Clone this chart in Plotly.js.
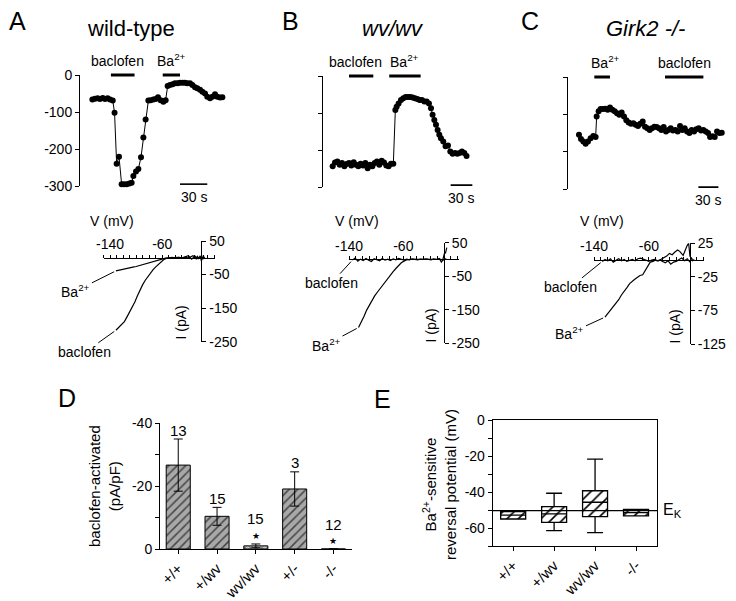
<!DOCTYPE html>
<html><head><meta charset="utf-8">
<script src="https://cdn.plot.ly/plotly-3.0.1.min.js"></script>
<style>html,body{margin:0;padding:0;background:#fff}#chart{width:736px;height:601px}</style>
</head><body><div id="chart"></div>
<script>
// ---------- DATA ----------
// Panel A (wild-type) time course: time (s), current (pA)
const aTime = [13.6,16.5,19.4,22,25,27.5,30.4,33,36,38,40.3,42.9,45.8,48.4,51.3,54.3,56.8,58.7,61.6,64.2,67.1,69.7,72.2,75.2,77.7,80.7,83.2,85.8,88.7,91.7,94.2,96.4,99,101.9,104.5,107.4,110,112.9,115.5,118,121,123.6,126.5,129,132,134.6,137.5,140,143,145.6,148.5,151,154,156.6];
const aCurrent = [-66,-64,-63,-65,-62,-65,-63,-66,-69,-102,-240,-221,-295,-295,-295,-293,-291,-273,-261,-254,-222,-169,-120,-69,-68,-66,-65,-60,-68,-72,-68,-30,-27,-25,-22,-22,-21,-21,-21,-22,-22,-27,-33,-36,-40,-45,-50,-59,-63,-59,-52,-59,-61,-60];
const aBaclofen = [34, 60];
const aBarium = [91, 110];
const aScale = [110, 140];

// Panel B (wv/wv) time course
const bTime = [13.8,17,20.3,23.5,26.7,30,33.2,36.4,39.6,42.9,46,49.3,52.5,55.8,59,62.2,65.4,68.7,71.9,75,78.3,81.6,84.8,88,91.2,94.5,97.7,100.5,102.3,105,108.3,111.5,114.7,118,121.2,124.4,127.6,131,134,137.3,140.6,143.8,147,149.8,152,154.4,156.7,159,161.3,163.6,166.8,170,173.3,176.5,179.7,183,186.2,189.4,192.6,195.9,199];
const bCurrent = [-244,-234,-231,-240,-235,-244,-238,-235,-242,-233,-240,-244,-237,-242,-235,-249,-240,-244,-235,-231,-240,-229,-234,-242,-244,-237,-237,-92,-83,-74,-65,-60,-57,-57,-57,-58,-60,-62,-65,-65,-69,-69,-74,-87,-105,-119,-132,-146,-159,-168,-177,-190,-188,-204,-210,-208,-210,-208,-204,-208,-216];
const bBaclofen = [36.4, 70];
const bBarium = [92, 135.5];
const bScale = [177, 207];

// Panel C (Girk2 -/-) time course
const cTime = [16,19,22.5,26,29.5,33.5,37.5,41,42.5,45.5,48.5,52,55.5,59,62.5,66,69.5,73,76.5,80,83.5,87,90.5,94,97.5,101,104.5,108,111.5,115,118.5,122,125.5,129,132.5,136,139.5,143,146.5,150,153.5,157,160.5,164,167.5,171,174.5,178,181.5,185,188.5,192,195.5,199,202.5,206,209.5,212.5,216,219.5,223,226.5,230];
const cCurrent = [-155,-166,-173,-179,-173,-164,-158,-161,-106,-92,-86,-86,-85,-88,-82,-88,-92,-97,-101,-95,-106,-116,-122,-125,-124,-128,-131,-125,-119,-133,-137,-142,-137,-133,-134,-137,-142,-134,-146,-142,-137,-143,-142,-146,-131,-142,-137,-146,-150,-142,-146,-140,-137,-143,-142,-146,-150,-161,-159,-161,-146,-150,-149];
const cBarium = [39, 62.5];
const cBaclofen = [145, 202.5];
const cScale = [195, 225];

// I-V curves: voltage (mV), current (pA)
const aIvBacV = [-131,-128,-125,-121,-118,-114,-110,-106,-102,-98,-94,-90,-86,-82,-78,-74,-70,-66,-62,-58,-54,-50,-45,-40,-35,-30,-25,-20,-16,-13,-10,-8,-6,-4,-2,0,1,2,3,4,5];
const aIvBacI = [-216,-210,-206,-196,-190,-176,-162,-149,-132,-113,-95,-80,-67,-56,-45,-35,-27,-19,-12,-6,-2,0,1,-1,1,0,2,-1,3,6,2,-3,4,-2,6,-10,3,-5,8,-3,2];
const aIvBaV = [-131,-125,-120,-115,-110,-105,-100,-95,-90,-85,-80,-75,-70,-65,-60,-55,-50,-45,-40,-35,-30,-25,-20,-15,-10,-5,0,3,5];
const aIvBaI = [-39,-36,-34,-32,-30,-28,-26,-23,-20,-17,-14,-11,-8,-5,-3,-1,0,1,0,1,-1,2,6,-4,5,-3,3,-2,1];

const bIvBacV = [-135,-131,-127,-123,-119,-115,-111,-107,-103,-99,-95,-91,-87,-83,-79,-75,-71,-67,-63,-59,-55,-51,-47,-43,-39,-35,-31,-27,-23,-19,-15,-11,-7,-4,-2,0,1,2,3,4];
const bIvBacI = [-2,4,-5,1,-3,3,-2,-6,2,-1,-4,3,-2,1,-3,2,-1,3,0,-2,1,-1,2,0,-1,1,0,2,1,-1,2,0,3,-8,-2,15,22,18,30,35];
const bIvBaV = [-126,-122,-118,-114,-110,-106,-102,-98,-94,-90,-86,-82,-78,-75,-71,-67,-63,-59,-55,-50,-45,-40,-35,-30,-25,-20,-15,-10,-5,0,3];
const bIvBaI = [-203,-188,-170,-151,-136,-120,-108,-97,-86,-75,-63,-53,-44,-36,-27,-18,-10,-5,-1,0,0,1,0,1,0,1,2,1,0,-2,3];

const cIvBacV = [-128,-124,-120,-116,-112,-108,-104,-100,-96,-92,-88,-84,-80,-76,-72,-68,-64,-60,-56,-52,-48,-44,-40,-36,-32,-28,-24,-20,-16,-12,-8,-4,0,2,4,6];
const cIvBacI = [-2,1,-1,2,-3,0,2,-1,1,-2,0,1,-1,2,3,1,-1,-2,0,1,-1,0,-2,-4,-1,-6,-3,-2,1,3,-1,2,-3,4,-1,1];
const cIvBaV = [-124,-120,-116,-112,-108,-104,-100,-96,-92,-88,-85,-81,-77,-73,-69,-66,-62,-58,-54,-50,-46,-42,-38,-34,-30,-26,-22,-18,-15,-12,-10,-8,-6,-4,-2,0];
const cIvBaI = [-85,-80,-75,-70,-65,-59,-52,-47,-41,-35,-32,-29,-26,-23,-22,-17,-9,-3,-2,0,-1,1,3,6,10,8,12,15,13,9,7,12,18,22,25,5];

// Panel D: baclofen-activated current density
const dCategories = ['+/+','+/wv','wv/wv','+/-','-/-'];
const dMean = [-26.7,-10.4,-1.0,-19.1,0];
const dSem = [8.3,2.85,0.6,5.45,0];
const dCounts = ['13','15','15','3','12'];
const dSignificant = [false,false,true,false,true];

// Panel E: Ba2+-sensitive reversal potential
const eCategories = ['+/+','+/wv','wv/wv','-/-'];
const eQ1 = [-55,-56.9,-53.7,-53.3];
const eMedian = [-52.8,-52.2,-45.7,-51.5];
const eQ3 = [-50.9,-48.1,-39.3,-49.6];
const eLower = [-55,-61.5,-62.6,-53.3];
const eUpper = [-50.9,-40.7,-21.7,-49.6];
const eEk = -50.4;

// ---------- LAYOUT HELPERS ----------
const W = 736, H = 601;
const fx = p => p / W, fy = p => 1 - p / H;
const FONT = '"Liberation Sans", Arial, Helvetica, sans-serif';
const map = (dom, rng) => v => dom[0] + (v - rng[0]) / (rng[1] - rng[0]) * (dom[1] - dom[0]);
const numText = v => String(v);

const topY = [-300, 0];
const topTicks = [0, -100, -200, -300];
const panelsTop = [
  {id:'', t:aTime, i:aCurrent, xd:[fx(80), fx(230)], xr:[0,165], yd:[fy(186), fy(75)], labels:true,
   stims:[{r:aBaclofen, txt:'baclofen', shift:-5}, {r:aBarium, txt:'Ba<sup>2+</sup>', shift:0}], scale:aScale},
  {id:'2', t:bTime, i:bCurrent, xd:[fx(322.7), fx(480)], xr:[0,217.6], yd:[fy(187), fy(76)], labels:false,
   stims:[{r:bBaclofen, txt:'baclofen', shift:-6}, {r:bBarium, txt:'Ba<sup>2+</sup>', shift:0}], scale:bScale},
  {id:'3', t:cTime, i:cCurrent, xd:[fx(568.3), fx(730)], xr:[0,242.4], yd:[fy(189), fy(77)], labels:false,
   stims:[{r:cBarium, txt:'Ba<sup>2+</sup>', shift:3}, {r:cBaclofen, txt:'baclofen', shift:0}], scale:cScale}
];

const data = [];
const layout = {
  width: W, height: H, margin:{l:0,r:0,t:0,b:0}, paper_bgcolor:'#fff', plot_bgcolor:'rgba(0,0,0,0)',
  showlegend:false, font:{family:FONT, size:14, color:'#000'},
  annotations:[], shapes:[]
};
const A = layout.annotations, S = layout.shapes;

panelsTop.forEach(p => {
  const xk = 'xaxis' + p.id, yk = 'yaxis' + p.id;
  layout[xk] = {domain:p.xd, range:p.xr, visible:false, fixedrange:true};
  layout[yk] = {domain:p.yd, range:topY, anchor:'x'+p.id, showline:true, linecolor:'#000', linewidth:1,
    ticks:'outside', ticklen:4, tickcolor:'#000', tickvals:topTicks, ticktext:topTicks.map(numText),
    showticklabels:p.labels, showgrid:false, zeroline:false, tickfont:{size:14}, fixedrange:true};
  data.push({type:'scatter', mode:'lines+markers', x:p.t, y:p.i, xaxis:'x'+p.id, yaxis:'y'+p.id,
    line:{color:'#000', width:1}, marker:{color:'#000', size:6}, cliponaxis:false, hoverinfo:'skip'});
  const ym = map(p.yd, topY);
  p.stims.forEach(s => {
    S.push({type:'line', xref:'x'+p.id, yref:'paper', x0:s.r[0], x1:s.r[1], y0:ym(0), y1:ym(0),
      line:{color:'#000', width:3}});
    A.push({xref:'x'+p.id, yref:'paper', x:(s.r[0]+s.r[1])/2, y:ym(0), xshift:s.shift, yanchor:'bottom', yshift:4,
      text:s.txt, showarrow:false, font:{size:14}});
  });
  S.push({type:'line', xref:'x'+p.id, yref:'paper', x0:p.scale[0], x1:p.scale[1], y0:ym(-295), y1:ym(-295),
    line:{color:'#000', width:1.6}});
  A.push({xref:'x'+p.id, yref:'paper', x:(p.scale[0]+p.scale[1])/2, y:ym(-295), yanchor:'top', yshift:-3,
    text:'30 s', showarrow:false, font:{size:14}});
});

// I-V panels
const ivPanels = [
  {id:'4', xd:[fx(103.5), fx(214.5)], xr:[-150,20], yd:[fy(341.7), fy(241)], yr:[-250,50], yt:[50,-50,-150,-250],
   bac:[aIvBacV, aIvBacI], ba:[aIvBaV, aIvBaI], bacOff:[-31,22], baOff:[-40,20], vLab:[112,221], iLab:[180.5,323]},
  {id:'5', xd:[fx(349), fx(459)], xr:[-140,22], yd:[fy(343.3), fy(242.7)], yr:[-250,50], yt:[50,-50,-150,-250],
   bac:[bIvBacV, bIvBacI], ba:[bIvBaV, bIvBaI], bacOff:[-21,23], baOff:[-32,17], vLab:[356.5,221], iLab:[430.5,325]},
  {id:'6', xd:[fx(594), fx(704)], xr:[-140,20.4], yd:[fy(344), fy(243.3)], yr:[-125,25], yt:[25,-25,-75,-125],
   bac:[cIvBacV, cIvBacI], ba:[cIvBaV, cIvBaI], bacOff:[-32,26], baOff:[-35,16], vLab:[601.5,221], iLab:[674.5,327]}
];
ivPanels.forEach(p => {
  const xm = map(p.xd, p.xr), ymp = map(p.yd, p.yr);
  const vt = []; for (let v = Math.ceil(p.xr[0]/10)*10; v <= p.xr[1]; v += 10) vt.push(v);
  layout['xaxis'+p.id] = {domain:p.xd, range:p.xr, anchor:'free', position:ymp(0), side:'top',
    showline:true, linecolor:'#000', linewidth:1, ticks:'outside', ticklen:3, tickcolor:'#000',
    tickvals:vt, ticktext:vt.map(v => (v === -140 || v === -60) ? numText(v) : ''),
    showgrid:false, zeroline:false, tickfont:{size:14}, fixedrange:true};
  layout['yaxis'+p.id] = {domain:p.yd, range:p.yr, anchor:'free', position:xm(0), side:'right',
    showline:true, linecolor:'#000', linewidth:1, ticks:'outside', ticklen:4, tickcolor:'#000',
    tickvals:p.yt, ticktext:p.yt.map(numText), showgrid:false, zeroline:false, tickfont:{size:14}, fixedrange:true};
  [p.bac, p.ba].forEach(c => data.push({type:'scatter', mode:'lines', x:c[0], y:c[1], xaxis:'x'+p.id, yaxis:'y'+p.id,
    line:{color:'#000', width:1.2}, hoverinfo:'skip'}));
  A.push({xref:'x'+p.id, yref:'y'+p.id, x:p.bac[0][0], y:p.bac[1][0], ax:p.bacOff[0], ay:p.bacOff[1],
    text:'baclofen', showarrow:true, arrowhead:0, arrowwidth:1, arrowcolor:'#000', standoff:2, font:{size:14}});
  A.push({xref:'x'+p.id, yref:'y'+p.id, x:p.ba[0][0], y:p.ba[1][0], ax:p.baOff[0], ay:p.baOff[1],
    text:'Ba<sup>2+</sup>', showarrow:true, arrowhead:0, arrowwidth:1, arrowcolor:'#000', standoff:2, font:{size:14}});
  A.push({xref:'paper', yref:'paper', x:fx(p.vLab[0]), y:fy(p.vLab[1]), text:'V (mV)', showarrow:false, font:{size:14}});
  A.push({xref:'paper', yref:'paper', x:fx(p.iLab[0]), y:fy(p.iLab[1]), text:'I (pA)', textangle:-90, showarrow:false, font:{size:14}});
});

// Panel D
const dYR = [0, -40];
const dFill = ['#a8a8a8','#a8a8a8','#c6c6c6','#a8a8a8','#a8a8a8'];
layout.xaxis7 = {domain:[fx(160), fx(351.7)], type:'category', range:[-0.47, 4.47], anchor:'y7',
  showline:true, linecolor:'#000', linewidth:1, ticks:'outside', ticklen:4, tickcolor:'#000',
  tickangle:-45, tickfont:{size:15}, showgrid:false, zeroline:false, fixedrange:true};
layout.yaxis7 = {domain:[fy(549), fy(423.3)], range:dYR, anchor:'x7', showline:true, linecolor:'#000', linewidth:1,
  ticks:'outside', ticklen:4, tickcolor:'#000', tickvals:[0,-10,-20,-30,-40], ticktext:['0','','-20','','-40'],
  tickfont:{size:14}, showgrid:false, zeroline:false, fixedrange:true};
data.push({type:'bar', x:dCategories, y:dMean, xaxis:'x7', yaxis:'y7', width:0.62,
  marker:{color:dFill, line:{color:'#000', width:1},
    pattern:{shape:['/','/','x','/','/'], fgcolor:'#000', fgopacity:1,
      size:[6,6,4,6,6], solidity:[0.25,0.25,0.25,0.25,0.25], fillmode:'overlay'}},
  error_y:{type:'data', array:dSem, visible:true, color:'#000', thickness:1, width:4.5}, hoverinfo:'skip'});
dCategories.forEach((c, k) => {
  const top = dMean[k] - dSem[k];
  A.push({xref:'x7', yref:'y7', x:c, y:top, yanchor:'middle', yshift:dSignificant[k] ? 25 : 9,
    text:dCounts[k], showarrow:false, font:{size:15}});
  if (dSignificant[k]) A.push({xref:'x7', yref:'y7', x:c, y:top, yanchor:'middle', yshift:8,
    text:'★', showarrow:false, font:{size:9, family:'DejaVu Sans'}});
});
A.push({xref:'paper', yref:'paper', x:fx(105), y:fy(486), text:'baclofen-activated<br>(pA/pF)', textangle:-90,
  showarrow:false, font:{size:15}});

// Panel E
const eYR = [-70, 0];
layout.xaxis8 = {domain:[fx(492.7), fx(657.3)], type:'category', range:[-0.5, 3.52], anchor:'y8',
  showline:true, mirror:true, linecolor:'#000', linewidth:1, ticks:'outside', ticklen:4, tickcolor:'#000',
  tickangle:-45, tickfont:{size:15}, showgrid:false, zeroline:false, fixedrange:true};
layout.yaxis8 = {domain:[fy(546), fy(420)], range:eYR, anchor:'x8', showline:true, mirror:true, linecolor:'#000', linewidth:1,
  ticks:'outside', ticklen:4, tickcolor:'#000', tickvals:[0,-10,-20,-30,-40,-50,-60,-70],
  ticktext:['0','','-20','','-40','','-60',''], tickfont:{size:14}, showgrid:false, zeroline:false, fixedrange:true};
data.push({type:'bar', x:eCategories, y:eQ3.map((v,k) => v - eQ1[k]), base:eQ1, xaxis:'x8', yaxis:'y8', width:0.61,
  marker:{color:'#fff', line:{width:0}, pattern:{shape:'/', fgcolor:'#000', fgopacity:1, size:8, solidity:0.2, fillmode:'overlay'}},
  hoverinfo:'skip'});
data.push({type:'box', x:eCategories, q1:eQ1, median:eMedian, q3:eQ3, lowerfence:eLower, upperfence:eUpper,
  xaxis:'x8', yaxis:'y8', width:0.61, whiskerwidth:0.64, boxpoints:false, fillcolor:'rgba(0,0,0,0)',
  line:{color:'#000', width:1.3}, hoverinfo:'skip'});
const exd = layout.xaxis8.domain;
S.push({type:'line', xref:'paper', yref:'y8', x0:exd[0], x1:exd[1], y0:eEk, y1:eEk, line:{color:'#000', width:1.2}});
A.push({xref:'paper', yref:'y8', x:exd[1], y:eEk, xanchor:'left', xshift:4, text:'E<sub>K</sub>', showarrow:false, font:{size:16}});
A.push({xref:'paper', yref:'paper', x:fx(440), y:fy(485), text:'Ba<sup>2+</sup>-sensitive<br>reversal potential (mV)',
  textangle:-90, showarrow:false, font:{size:15}});

// Titles and panel letters
[[131,'wild-type'],[392.5,'<i>wv/wv</i>'],[645.5,'<i>Girk2 -/-</i>']].forEach(t =>
  A.push({xref:'paper', yref:'paper', x:fx(t[0]), y:fy(29), text:t[1], showarrow:false, font:{size:22}}));
[[17.5,21,'A'],[290,21,'B'],[530,21,'C'],[67,398,'D'],[383,399,'E']].forEach(t =>
  A.push({xref:'paper', yref:'paper', x:fx(t[0]), y:fy(t[1]), text:t[2], showarrow:false, font:{size:25}}));

// explicit anchors for plain text annotations
A.forEach(a => {
  if (!a.showarrow) {
    if (!a.xanchor) a.xanchor = 'center';
    if (!a.yanchor) a.yanchor = 'middle';
  }
});

Plotly.newPlot('chart', data, layout, {staticPlot:true, displayModeBar:false});
</script></body></html>
